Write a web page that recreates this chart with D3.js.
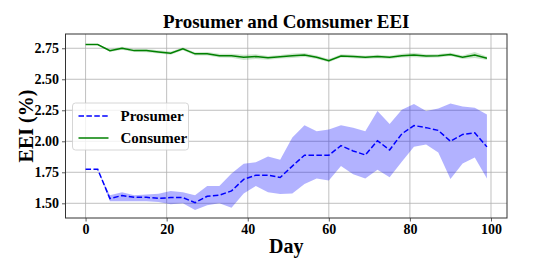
<!DOCTYPE html>
<html>
<head>
<meta charset="utf-8">
<script src="https://cdn.jsdelivr.net/npm/d3@7"></script>
<style>
  body { margin: 0; background: #fff; }
  text { font-family: "Liberation Serif", "Times New Roman", serif; font-weight: bold; }
</style>
</head>
<body>
<div id="wrapper"></div>
<script>
// days sampled every 3 days
const days = d3.range(0, 100, 3);

const prosumerMean = [1.774,1.774,1.538,1.563,1.548,1.548,1.540,1.546,1.546,1.505,1.557,1.565,1.600,1.693,1.727,1.727,1.708,1.800,1.888,1.888,1.888,1.965,1.922,1.890,2.005,1.930,2.060,2.127,2.110,2.088,2.000,2.055,2.068,1.955];
const prosumerUpper = [1.774,1.774,1.565,1.590,1.565,1.570,1.578,1.600,1.590,1.565,1.640,1.640,1.740,1.818,1.830,1.878,1.852,2.030,2.130,2.080,2.095,2.130,2.110,2.080,2.245,2.140,2.255,2.300,2.245,2.265,2.305,2.280,2.270,2.215];
const prosumerLower = [1.774,1.774,1.516,1.516,1.516,1.516,1.510,1.492,1.500,1.445,1.485,1.500,1.465,1.580,1.640,1.590,1.575,1.580,1.655,1.700,1.683,1.800,1.735,1.700,1.770,1.710,1.835,1.955,1.975,1.910,1.695,1.820,1.870,1.700];

const consumerMean = [2.780,2.780,2.731,2.750,2.731,2.731,2.720,2.710,2.745,2.705,2.705,2.690,2.690,2.677,2.683,2.673,2.681,2.690,2.696,2.677,2.650,2.688,2.683,2.677,2.683,2.677,2.690,2.696,2.688,2.690,2.700,2.677,2.696,2.670];
const consumerUpper = [2.780,2.780,2.743,2.762,2.743,2.744,2.733,2.723,2.757,2.718,2.719,2.705,2.706,2.698,2.702,2.688,2.695,2.708,2.712,2.691,2.663,2.701,2.697,2.690,2.697,2.690,2.705,2.714,2.702,2.704,2.713,2.691,2.720,2.684];
const consumerLower = [2.780,2.780,2.719,2.738,2.719,2.718,2.707,2.697,2.733,2.692,2.691,2.675,2.674,2.656,2.664,2.658,2.667,2.672,2.680,2.663,2.637,2.675,2.669,2.664,2.669,2.664,2.675,2.678,2.674,2.676,2.687,2.663,2.672,2.656];

const xTicks = [0, 20, 40, 60, 80, 100];
const yTicks = [1.50, 1.75, 2.00, 2.25, 2.50, 2.75];

const series = [
  { name: "Prosumer", mean: prosumerMean, upper: prosumerUpper, lower: prosumerLower, color: "#0000ff", fill: "#0000ff", alpha: 0.3, dash: "5.5,2.4" },
  { name: "Consumer", mean: consumerMean, upper: consumerUpper, lower: consumerLower, color: "#008000", fill: "#008000", alpha: 0.2, dash: null }
];

const dimension = {
  width: 548,
  height: 274,
  margin: { top: 34, right: 41, bottom: 56, left: 65.5 }
};
dimension.boundedWidth = dimension.width - dimension.margin.left - dimension.margin.right;
dimension.boundedHeight = dimension.height - dimension.margin.top - dimension.margin.bottom;

const wrapper = d3.select("#wrapper")
  .append("svg")
  .attr("width", dimension.width)
  .attr("height", dimension.height);

const bounds = wrapper.append("g")
  .attr("transform", `translate(${dimension.margin.left},${dimension.margin.top})`);

const x = d3.scaleLinear().domain([-4.95, 103.95]).range([0, dimension.boundedWidth]);
const y = d3.scaleLinear().domain([1.3815, 2.865]).range([dimension.boundedHeight, 0]);

// grid
bounds.append("g")
  .selectAll("line")
  .data(xTicks)
  .enter().append("line")
  .attr("x1", d => x(d)).attr("x2", d => x(d))
  .attr("y1", 0).attr("y2", dimension.boundedHeight)
  .attr("stroke", "#b0b0b0").attr("stroke-width", 0.8);

bounds.append("g")
  .selectAll("line")
  .data(yTicks)
  .enter().append("line")
  .attr("x1", 0).attr("x2", dimension.boundedWidth)
  .attr("y1", d => y(d)).attr("y2", d => y(d))
  .attr("stroke", "#b0b0b0").attr("stroke-width", 0.8);

// bands and lines
const area = (s) => d3.area()
  .x((d, i) => x(days[i]))
  .y0((d, i) => y(s.lower[i]))
  .y1((d, i) => y(s.upper[i]));

const line = d3.line()
  .x((d, i) => x(days[i]))
  .y(d => y(d));

series.forEach(s => {
  bounds.append("path")
    .attr("d", area(s)(days))
    .attr("fill", s.fill)
    .attr("fill-opacity", s.alpha);
});

series.forEach(s => {
  bounds.append("path")
    .attr("d", line(s.mean))
    .attr("fill", "none")
    .attr("stroke", s.color)
    .attr("stroke-width", 1.5)
    .attr("stroke-dasharray", s.dash);
});

// axes
const xAxis = d3.axisBottom(x).tickValues(xTicks).tickSize(3.5).tickPadding(3).tickFormat(d3.format("d"));
const yAxis = d3.axisLeft(y).tickValues(yTicks).tickSize(3.5).tickPadding(3).tickFormat(d3.format(".2f"));

const xg = bounds.append("g")
  .attr("transform", `translate(0,${dimension.boundedHeight})`)
  .call(xAxis);
const yg = bounds.append("g").call(yAxis);

[xg, yg].forEach(g => {
  g.select(".domain").remove();
  g.selectAll(".tick line").attr("stroke", "#333").attr("stroke-width", 0.8);
  g.selectAll(".tick text")
    .attr("fill", "#000")
    .style("font-size", "14px")
    .style("font-family", "'Liberation Serif', serif")
    .style("font-weight", "bold");
});

// frame
bounds.append("rect")
  .attr("width", dimension.boundedWidth)
  .attr("height", dimension.boundedHeight)
  .attr("fill", "none")
  .attr("stroke", "#333")
  .attr("stroke-width", 1);

// title and labels
wrapper.append("text")
  .attr("x", dimension.margin.left + dimension.boundedWidth / 2)
  .attr("y", 28)
  .attr("text-anchor", "middle")
  .style("font-size", "19px")
  .text("Prosumer and Comsumer EEI");

wrapper.append("text")
  .attr("x", dimension.margin.left + dimension.boundedWidth / 2)
  .attr("y", 253)
  .attr("text-anchor", "middle")
  .style("font-size", "20px")
  .text("Day");

wrapper.append("text")
  .attr("transform", `translate(33,${dimension.margin.top + dimension.boundedHeight / 2}) rotate(-90)`)
  .attr("text-anchor", "middle")
  .style("font-size", "20px")
  .text("EEI (%)");

// legend
const legend = bounds.append("g").attr("transform", "translate(7,69)");
legend.append("rect")
  .attr("width", 116)
  .attr("height", 47)
  .attr("rx", 3)
  .attr("fill", "#fff")
  .attr("fill-opacity", 0.8)
  .attr("stroke", "#ccc")
  .attr("stroke-width", 0.8);

const items = legend.selectAll("g.item")
  .data(series)
  .enter().append("g")
  .attr("class", "item")
  .attr("transform", (d, i) => `translate(6,${13 + i * 22})`);

items.append("line")
  .attr("x1", 0).attr("x2", 30)
  .attr("stroke", d => d.color)
  .attr("stroke-width", 1.5)
  .attr("stroke-dasharray", d => d.dash);

items.append("text")
  .attr("x", 42)
  .attr("y", 5)
  .style("font-size", "15px")
  .text(d => d.name);
</script>
</body>
</html>
